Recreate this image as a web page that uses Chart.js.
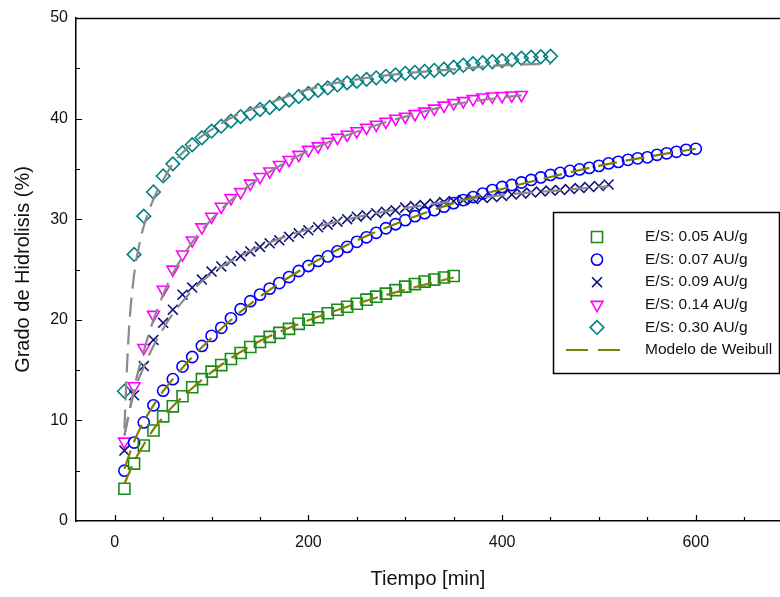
<!DOCTYPE html>
<html>
<head>
<meta charset="utf-8">
<script src="https://cdn.jsdelivr.net/npm/chart.js@4.4.0/dist/chart.umd.min.js"></script>
<style>
  html, body { margin: 0; padding: 0; background: #fff; overflow: hidden; }
  #wrap { width: 780px; height: 597px; position: relative; }
  #hidrolisis { display: block; }
</style>
</head>
<body>
<div id="wrap"><canvas id="hidrolisis"></canvas></div>
<script>
// tiempos de muestreo (min)
const tiempo = [10, 20, 30, 40, 50, 60, 70, 80, 90, 100, 110, 120, 130, 140, 150, 160, 170, 180, 190, 200,
  210, 220, 230, 240, 250, 260, 270, 280, 290, 300, 310, 320, 330, 340, 350, 360, 370, 380, 390, 400,
  410, 420, 430, 440, 450, 460, 470, 480, 490, 500, 510, 520, 530, 540, 550, 560, 570, 580, 590, 600];

// grado de hidrolisis (%)
const gh005 = [3.2, 5.7, 7.5, 9.0, 10.4, 11.4, 12.4, 13.3, 14.1, 14.85, 15.5, 16.1, 16.7, 17.3, 17.8, 18.3,
  18.7, 19.1, 19.6, 20.0, 20.25, 20.65, 21.0, 21.3, 21.6, 22.0, 22.3, 22.6, 22.95, 23.3, 23.55, 23.8, 24.0,
  24.2, 24.35];
const gh007 = [5.0, 7.8, 9.8, 11.5, 12.95, 14.1, 15.35, 16.3, 17.4, 18.4, 19.2, 20.15, 21.05, 21.85, 22.5,
  23.1, 23.65, 24.25, 24.85, 25.35, 25.85, 26.3, 26.8, 27.25, 27.75, 28.2, 28.65, 29.1, 29.5, 29.9, 30.3,
  30.6, 30.9, 31.25, 31.6, 31.9, 32.2, 32.55, 32.9, 33.2, 33.4, 33.65, 33.9, 34.15, 34.4, 34.6, 34.8, 34.95,
  35.1, 35.3, 35.55, 35.7, 35.9, 36.05, 36.15, 36.4, 36.55, 36.7, 36.9, 37.0];
const gh009 = [7.0, 12.5, 15.4, 18.0, 19.7, 21.0, 22.5, 23.2, 24.0, 24.8, 25.3, 25.85, 26.35, 26.8, 27.25,
  27.6, 27.9, 28.25, 28.6, 28.9, 29.2, 29.45, 29.75, 30.0, 30.25, 30.4, 30.6, 30.75, 30.9, 31.15, 31.3, 31.4,
  31.55, 31.7, 31.8, 31.9, 32.0, 32.1, 32.2, 32.3, 32.45, 32.55, 32.65, 32.75, 32.85, 32.9, 33.0, 33.1, 33.2,
  33.3, 33.45];
const gh014 = [7.9, 13.4, 17.2, 20.5, 23.0, 25.0, 26.5, 27.9, 29.2, 30.25, 31.25, 32.1, 32.7, 33.55, 34.2,
  34.75, 35.4, 35.9, 36.4, 36.9, 37.25, 37.7, 38.1, 38.4, 38.75, 39.1, 39.4, 39.7, 40.0, 40.2, 40.45, 40.7,
  41.0, 41.3, 41.55, 41.75, 41.95, 42.1, 42.2, 42.25, 42.3, 42.35];
const gh030 = [12.9, 26.5, 30.3, 32.7, 34.3, 35.5, 36.6, 37.4, 38.1, 38.75, 39.25, 39.75, 40.2, 40.5, 40.9,
  41.1, 41.5, 41.85, 42.2, 42.5, 42.8, 43.05, 43.35, 43.55, 43.7, 43.9, 44.05, 44.2, 44.35, 44.5, 44.6, 44.7,
  44.8, 44.9, 45.1, 45.3, 45.45, 45.55, 45.65, 45.75, 45.85, 46.0, 46.1, 46.15, 46.2];

// modelo de Weibull
const mT005 = [10, 20, 30, 40, 50, 60, 80, 100, 125, 150, 175, 200, 250, 300, 350];
const mV005 = [3.7, 5.9, 7.6, 9.1, 10.3, 11.4, 13.2, 14.8, 16.5, 17.9, 19.0, 19.95, 21.6, 23.0, 24.2];
const mT007 = [10, 20, 30, 40, 50, 60, 80, 100, 125, 150, 200, 250, 300, 350, 400, 450, 500, 550, 600];
const mV007 = [5.2, 7.9, 9.9, 11.5, 12.9, 14.1, 16.3, 18.2, 20.4, 22.3, 25.4, 27.9, 29.9, 31.6, 33.0, 34.2, 35.3, 36.2, 37.0];
const mT009 = [10, 20, 30, 40, 50, 60, 80, 100, 125, 150, 200, 250, 300, 350, 400, 450, 500, 510];
const mV009 = [8.5, 12.8, 15.3, 17.4, 19.1, 20.6, 22.9, 24.6, 26.1, 27.3, 29.0, 30.2, 31.1, 31.8, 32.4, 32.8, 33.2, 33.25];
const mT014 = [10, 20, 30, 40, 50, 60, 80, 100, 125, 150, 200, 250, 300, 350, 400, 420];
const mV014 = [8.5, 13.2, 16.9, 20.0, 22.5, 24.6, 27.7, 30.0, 32.3, 34.1, 36.8, 38.7, 40.2, 41.4, 42.1, 42.3];
const mT030 = [10, 12.5, 15, 20, 25, 30, 40, 50, 60, 80, 100, 125, 150, 200, 250, 300, 350, 400, 450];
const mV030 = [9.2, 15.0, 19.5, 24.5, 27.3, 29.3, 32.0, 33.9, 35.5, 37.5, 38.9, 40.3, 41.2, 42.9, 43.9, 44.5, 44.9, 45.3, 45.45];

const etiquetas = ["E/S: 0.05 AU/g", "E/S: 0.07 AU/g", "E/S: 0.09 AU/g", "E/S: 0.14 AU/g", "E/S: 0.30 AU/g"];
const etiquetaModelo = "Modelo de Weibull";
const ticksX = [0, 200, 400, 600];

const FUENTE = "'Liberation Sans', Arial, sans-serif";
const OLIVA = "#808000";
const GRIS = "#8a8a8a";
const DASH = [19, 9];

function pares(xs, ys) {
  return ys.map((v, i) => ({ x: xs[i], y: v }));
}

function serie(label, datos, color, estilo, radio, rot) {
  return {
    label,
    data: pares(tiempo, datos),
    showLine: false,
    pointStyle: estilo,
    pointRadius: radio,
    pointRotation: rot || 0,
    pointBorderColor: color,
    pointBackgroundColor: "rgba(0,0,0,0)",
    pointBorderWidth: 1.6,
    borderColor: color,
    order: 2
  };
}

function modelo(xs, ys, color) {
  return {
    label: etiquetaModelo,
    data: pares(xs, ys),
    showLine: true,
    borderColor: color,
    borderWidth: 2.2,
    borderDash: DASH,
    pointRadius: 0,
    cubicInterpolationMode: "monotone",
    fill: false,
    order: 1
  };
}

const datasets = [
  serie(etiquetas[0], gh005, "#1a8a1a", "rect", 7.8),
  serie(etiquetas[1], gh007, "#0000ff", "circle", 5.6),
  serie(etiquetas[2], gh009, "#10107a", "crossRot", 7.0),
  serie(etiquetas[3], gh014, "#ff00ff", "triangle", 6.8, 180),
  serie(etiquetas[4], gh030, "#008080", "rectRot", 6.8),
  modelo(mT005, mV005, OLIVA),
  modelo(mT007, mV007, OLIVA),
  modelo(mT009, mV009, GRIS),
  modelo(mT014, mV014, GRIS),
  modelo(mT030, mV030, GRIS)
];

// marcas de los ejes hacia adentro y borde superior
const marcasEjes = {
  id: "marcasEjes",
  afterDraw(chart) {
    const { ctx, chartArea: a, scales: { x, y } } = chart;
    ctx.save();
    ctx.strokeStyle = "#000";
    ctx.lineWidth = 1.2;
    ctx.beginPath();
    for (let v = 0; v <= 650; v += 50) {
      const px = Math.round(x.getPixelForValue(v)) + 0.5;
      const len = v % 200 === 0 ? 6 : 4;
      ctx.moveTo(px, a.bottom);
      ctx.lineTo(px, a.bottom - len);
    }
    for (let v = 5; v < 50; v += 5) {
      const py = Math.round(y.getPixelForValue(v)) + 0.5;
      const len = v % 10 === 0 ? 6 : 4;
      ctx.moveTo(a.left, py);
      ctx.lineTo(a.left + len, py);
    }
    ctx.stroke();
    ctx.lineWidth = 1.5;
    ctx.beginPath();
    ctx.moveTo(a.left, a.top + 0.5);
    ctx.lineTo(a.right, a.top + 0.5);
    ctx.stroke();
    ctx.restore();
  }
};

// leyenda dentro del area del grafico
const leyenda = {
  id: "leyenda",
  afterDraw(chart) {
    const ctx = chart.ctx;
    const bx = 553.5, by = 212.5, bw = 226, bh = 161;
    ctx.save();
    ctx.fillStyle = "#fff";
    ctx.fillRect(bx, by, bw, bh);
    ctx.strokeStyle = "#000";
    ctx.lineWidth = 1.5;
    ctx.strokeRect(bx, by, bw, bh);
    ctx.font = "15.5px " + FUENTE;
    ctx.textBaseline = "middle";
    ctx.textAlign = "left";
    for (let i = 0; i < 5; i++) {
      const ds = chart.data.datasets[i];
      const yy = 237 + i * 22.6;
      ctx.strokeStyle = ds.pointBorderColor;
      ctx.fillStyle = "rgba(0,0,0,0)";
      ctx.lineWidth = ds.pointBorderWidth;
      Chart.helpers.drawPoint(ctx, {
        pointStyle: ds.pointStyle,
        rotation: ds.pointRotation,
        radius: ds.pointRadius,
        borderWidth: ds.pointBorderWidth
      }, 597, yy);
      ctx.fillStyle = "#111";
      ctx.fillText(ds.label, 645, yy);
    }
    const ym = 237 + 5 * 22.6;
    ctx.strokeStyle = OLIVA;
    ctx.lineWidth = 2;
    ctx.setLineDash([22, 10]);
    ctx.beginPath();
    ctx.moveTo(566, ym);
    ctx.lineTo(621, ym);
    ctx.stroke();
    ctx.setLineDash([]);
    ctx.fillStyle = "#111";
    ctx.fillText(etiquetaModelo, 645, ym);
    ctx.restore();
  }
};

new Chart(document.getElementById("hidrolisis"), {
  type: "scatter",
  data: { datasets },
  options: {
    responsive: true,
    maintainAspectRatio: false,
    animation: false,
    devicePixelRatio: 1,
    layout: { autoPadding: false, padding: { top: 18, right: 0, left: 0, bottom: 0 } },
    plugins: {
      legend: { display: false },
      tooltip: { enabled: false }
    },
    scales: {
      x: {
        type: "linear",
        min: -40,
        max: 687,
        afterFit: s => { s.height = 76; },
        afterBuildTicks: s => { s.ticks = ticksX.map(v => ({ value: v })); },
        grid: { display: false, drawTicks: false },
        border: { display: true, color: "#000", width: 1.5 },
        ticks: { padding: 12, color: "#111", font: { family: FUENTE, size: 16 }, maxRotation: 0 },
        title: {
          display: true,
          text: "Tiempo [min]",
          color: "#111",
          font: { family: FUENTE, size: 20 },
          padding: { top: 0, bottom: 6 }
        }
      },
      y: {
        type: "linear",
        min: 0,
        max: 50,
        afterFit: s => { s.width = 76; },
        grid: { display: false, drawTicks: false },
        border: { display: true, color: "#000", width: 1.5 },
        ticks: { stepSize: 10, padding: 8, color: "#111", font: { family: FUENTE, size: 16 } },
        title: {
          display: true,
          text: "Grado de Hidrolisis (%)",
          color: "#111",
          font: { family: FUENTE, size: 20 },
          padding: { top: 11, bottom: 0 }
        }
      }
    }
  },
  plugins: [marcasEjes, leyenda]
});
</script>
</body>
</html>
